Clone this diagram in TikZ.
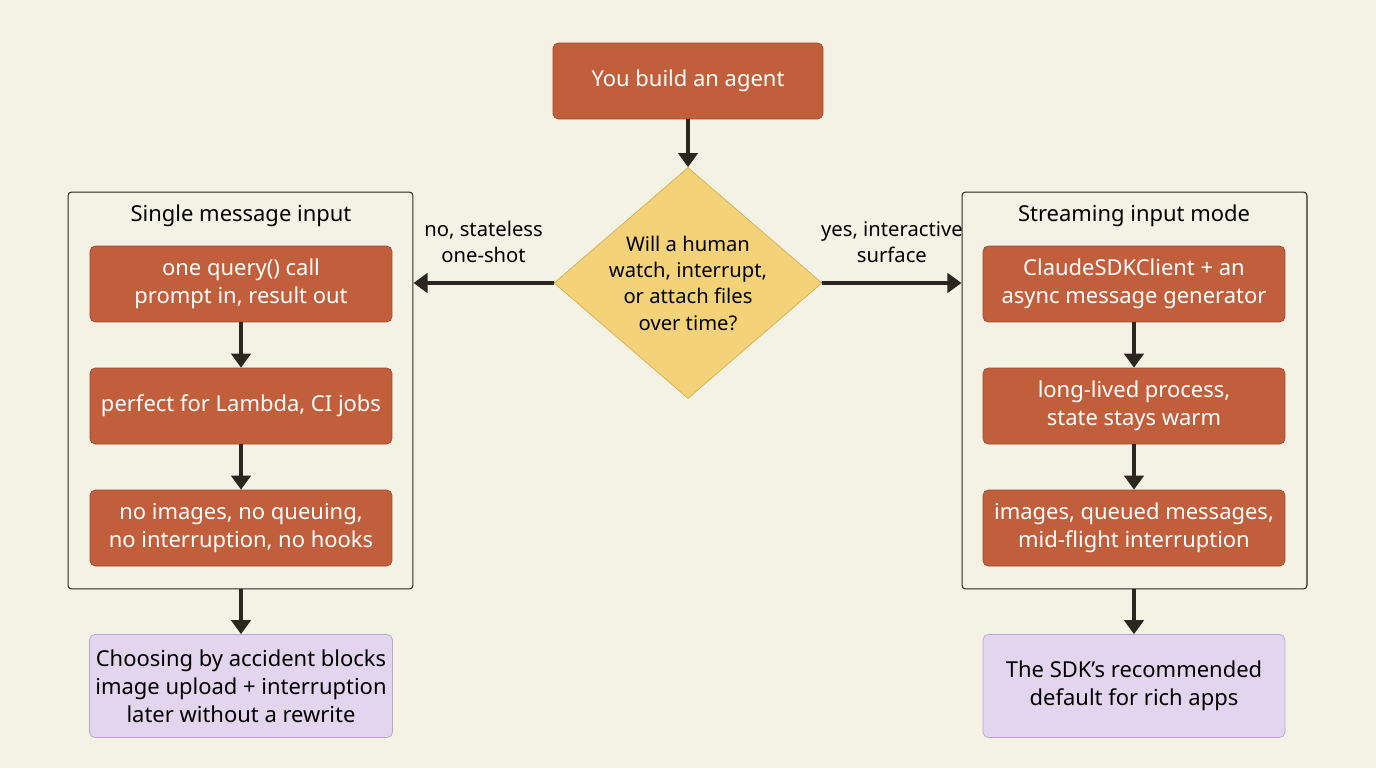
\documentclass[tikz,border=0pt]{standalone}
\usepackage{fontspec}
\setmainfont{Noto Sans}
\usetikzlibrary{shapes.geometric,arrows.meta}
\definecolor{bgcream}{HTML}{F4F1E5}
\definecolor{stepfill}{HTML}{C15F3C}
\definecolor{stepline}{HTML}{9E4A2E}
\definecolor{askfill}{HTML}{F3D27A}
\definecolor{askline}{HTML}{D9AE48}
\definecolor{endfill}{HTML}{E3D5EE}
\definecolor{endline}{HTML}{B9A6CC}
\definecolor{inkdark}{HTML}{2B2620}
\tikzset{
  stagebox/.style={rectangle, rounded corners=3pt, draw=stepline, fill=stepfill, text=white,
    minimum width=6.04cm, minimum height=1.52cm, align=center, font=\fontsize{12.5}{16}\selectfont},
  outcome/.style={rectangle, rounded corners=3pt, draw=endline, fill=endfill, text=black,
    minimum width=6.04cm, minimum height=2.06cm, align=center, font=\fontsize{12.5}{16}\selectfont},
  ask/.style={diamond, draw=askline, fill=askfill, aspect=1.16, minimum width=4.96cm,
    minimum height=4.26cm, inner sep=0pt, align=center, font=\fontsize{11.5}{15}\selectfont},
  sideframe/.style={rectangle, rounded corners=2pt, draw=inkdark, line width=0.6pt,
    minimum width=6.9cm, minimum height=7.94cm},
  flow/.style={draw=inkdark, line width=2.2pt, -{Triangle[length=8pt,width=11pt]}},
  flownote/.style={align=center, text=black, font=\fontsize{11.5}{15}\selectfont}
}
\begin{document}
\begin{tikzpicture}[x=0.02cm,y=-0.02cm]
  \fill[bgcream] (0,0) rectangle (1376,768);
  \useasboundingbox (0,0) rectangle (1376,768);

  \node[stagebox, minimum width=5.4cm] (start) at (688,81) {You build an agent};
  \node[ask] (ask) at (688,283) {Will a human\\watch, interrupt,\\or attach files\\over time?};

  % single message side
  \node[sideframe] (lframe) at (240.5,390.5) {};
  \node[flownote, font=\fontsize{12.5}{16}\selectfont] (ltitle) at (241,216) {Single message input};
  \node[stagebox] (l1) at (241,284) {one query() call\\prompt in, result out};
  \node[stagebox] (l2) at (241,406) {perfect for Lambda, CI jobs};
  \node[stagebox] (l3) at (241,528) {no images, no queuing,\\no interruption, no hooks};
  \node[outcome] (lend) at (241,686) {Choosing by accident blocks\\image upload + interruption\\later without a rewrite};

  % streaming side
  \node[sideframe] (rframe) at (1134.5,390.5) {};
  \node[flownote, font=\fontsize{12.5}{16}\selectfont] (rtitle) at (1134,216) {Streaming input mode};
  \node[stagebox] (r1) at (1134,284) {ClaudeSDKClient + an\\async message generator};
  \node[stagebox] (r2) at (1134,406) {long-lived process,\\state stays warm};
  \node[stagebox] (r3) at (1134,528) {images, queued messages,\\mid-flight interruption};
  \node[outcome] (rend) at (1134,686) {The SDK’s recommended\\default for rich apps};

  \draw[flow] (start) -- (ask);
  \draw[flow] (ask.west) -- node[flownote, above=7pt] {no, stateless\\one-shot} (lframe.east |- ask.west);
  \draw[flow] (ask.east) -- node[flownote, above=7pt] {yes, interactive\\surface} (rframe.west |- ask.east);

  \draw[flow] (l1) -- (l2);
  \draw[flow] (l2) -- (l3);
  \draw[flow] (lframe.south -| lend.north) -- (lend);
  \draw[flow] (r1) -- (r2);
  \draw[flow] (r2) -- (r3);
  \draw[flow] (rframe.south -| rend.north) -- (rend);
\end{tikzpicture}
\end{document}
